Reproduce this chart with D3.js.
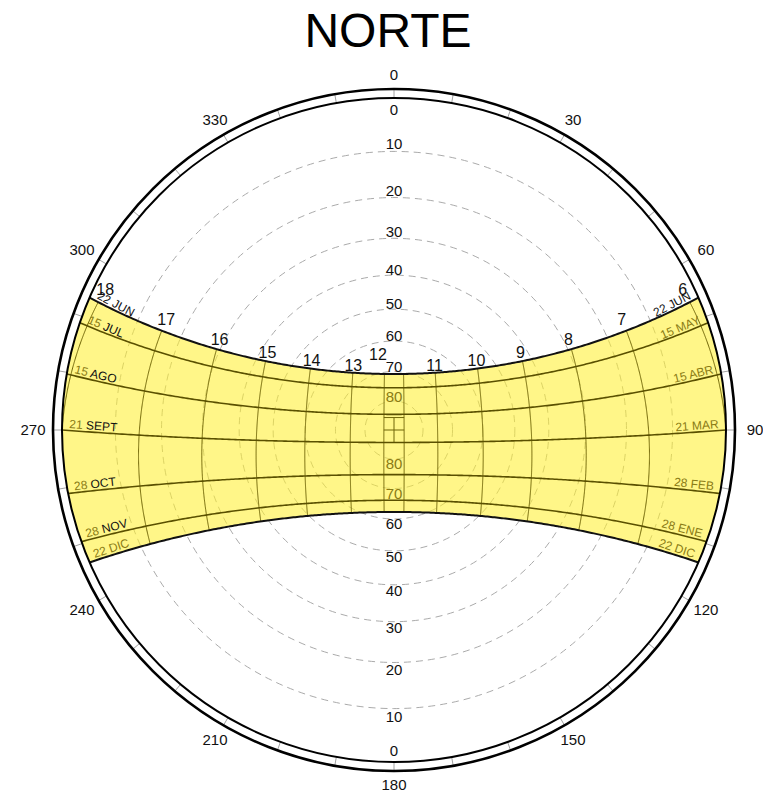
<!DOCTYPE html>
<html><head><meta charset="utf-8">
<script src="https://cdn.jsdelivr.net/npm/d3@7"></script>
<style>body{margin:0;background:#fff}svg{display:block;font-family:"Liberation Sans",Arial,sans-serif}</style>
</head><body><svg id="c" width="763" height="801"></svg>
<script>
// ---------- data ----------
const chartTitle = "NORTE";
const latitude = 4.3;                       // degrees north
const declinations = [23.44, 18.8, 9.7, 0, -11.0, -19.6, -23.44];
const leftDateNums   = ["22", "15", "15", "21", "28", "28", "22"];
const leftDateMonths = ["JUN", "JUL", "AGO", "SEPT", "OCT", "NOV", "DIC"];
const rightDateNums   = ["22", "15", "15", "21", "28", "28", "22"];
const rightDateMonths = ["JUN", "MAY", "ABR", "MAR", "FEB", "ENE", "DIC"];
const hours = [6, 7, 8, 9, 10, 11, 12, 13, 14, 15, 16, 17, 18];
const meridianBracketMinutes = [-14, 14];
const altitudeRings = [10, 20, 30, 40, 50, 60, 70, 80];
const altitudeLabels = [0, 10, 20, 30, 40, 50, 60, 70, 80];
const azimuthTicks = d3.range(0, 360, 10);
const azimuthLabels = [0, 30, 60, 90, 120, 150, 180, 210, 240, 270, 300, 330];

// ---------- layout ----------
const cx = 394, cy = 430, R = 332, Rout = 341;
const rad = Math.PI / 180;
const olive = "#8a7b14";
const svg = d3.select("#c");

const zScale = d3.scaleLinear().domain([0, 1]).range([0, R]);          // tan(z/2) -> px
const rOf = alt => zScale(Math.tan((90 - alt) * rad / 2));
const angScale = d3.scaleLinear().domain([0, 360]).range([0, 2 * Math.PI]);
function proj(az, alt) { const r = rOf(alt), a = angScale(az); return [cx + r * Math.sin(a), cy - r * Math.cos(a)]; }
function sun(dec, Hdeg) {
  const d = dec * rad, h = Hdeg * rad, p = latitude * rad;
  const E = -Math.cos(d) * Math.sin(h);
  const N = Math.sin(d) * Math.cos(p) - Math.cos(d) * Math.cos(h) * Math.sin(p);
  const U = Math.sin(d) * Math.sin(p) + Math.cos(d) * Math.cos(h) * Math.cos(p);
  return { az: (Math.atan2(E, N) / rad + 360) % 360, alt: Math.asin(Math.max(-1, Math.min(1, U))) / rad };
}
const H0 = dec => Math.acos(-Math.tan(latitude * rad) * Math.tan(dec * rad)) / rad;
function dayPts(dec, n = 300) {
  const h0 = H0(dec);
  return d3.range(n + 1).map(i => { const s = sun(dec, -h0 + 2 * h0 * i / n); return proj(s.az, Math.max(0, s.alt)); });
}
function horizonArc(side, d1, d2, n = 80) {
  return d3.range(n + 1).map(i => { const d = d1 + (d2 - d1) * i / n; const s = sun(d, side * H0(d)); return proj(s.az, 0); });
}
const line = d3.line();

// title
svg.append("text").attr("x", 388).attr("y", 47).attr("text-anchor", "middle")
  .attr("font-size", 48).attr("fill", "#000").text(chartTitle);

// altitude rings (dashed)
svg.append("g").selectAll("circle").data(altitudeRings).join("circle")
  .attr("cx", cx).attr("cy", cy).attr("r", d => rOf(d))
  .attr("fill", "none").attr("stroke", "#a0a0a0").attr("stroke-width", 0.9).attr("stroke-dasharray", "7,5");

// yellow band
const dMax = d3.max(declinations), dMin = d3.min(declinations);
const bandPts = [].concat(dayPts(dMax), horizonArc(1, dMax, dMin), dayPts(dMin).reverse(), horizonArc(-1, dMin, dMax));
svg.append("path").attr("d", line(bandPts) + "Z").attr("fill", "rgb(255,240,50)").attr("fill-opacity", 0.58);

// hour lines
const gH = svg.append("g");
hours.filter(h => h !== 12).forEach(h => {
  const Hd = (h - 12) * 15;
  const pts = d3.range(dMin, dMax + 0.001, 0.2).map(d => sun(d, Hd)).filter(s => s.alt >= 0).map(s => proj(s.az, s.alt));
  if (pts.length > 1) gH.append("path").attr("d", line(pts)).attr("fill", "none").attr("stroke", "#6f6406").attr("stroke-width", 1);
});
meridianBracketMinutes.forEach(m => {
  const Hd = m / 4;
  const pts = d3.range(dMin, dMax + 0.001, 0.2).map(d => sun(d, Hd)).map(s => proj(s.az, s.alt));
  gH.append("path").attr("d", line(pts)).attr("fill", "none").attr("stroke", "#6f6406").attr("stroke-width", 1);
});
// zenith marker grid
{
  const a = proj(0, 90), l = sun(0, meridianBracketMinutes[0] / 4), rr = sun(0, meridianBracketMinutes[1] / 4);
  const pl = proj(l.az, l.alt), pr = proj(rr.az, rr.alt);
  const top = a[1] - (pl[1] - a[1]);
  gH.append("path").attr("d", `M${pl[0]},${top}H${pr[0]}M${pl[0]},${a[1]}H${pr[0]}M${a[0]},${top}V${pl[1]}`)
    .attr("fill", "none").attr("stroke", "#6f6406").attr("stroke-width", 1);
}

// day curves
const dayCurves = declinations.map(d => dayPts(d));
svg.append("g").selectAll("path").data(dayCurves).join("path")
  .attr("d", d => line(d)).attr("fill", "none")
  .attr("stroke", (d, i) => (i === 0 || i === declinations.length - 1) ? "#111" : "#5a5000")
  .attr("stroke-width", (d, i) => (i === 0 || i === declinations.length - 1) ? 2 : 1.6);

// compass rings
svg.append("g").selectAll("line").data(azimuthTicks).join("line")
  .attr("x1", d => cx + R * Math.sin(angScale(d))).attr("y1", d => cy - R * Math.cos(angScale(d)))
  .attr("x2", d => cx + Rout * Math.sin(angScale(d))).attr("y2", d => cy - Rout * Math.cos(angScale(d)))
  .attr("stroke", "#8a8a8a").attr("stroke-width", 0.8);
svg.append("circle").attr("cx", cx).attr("cy", cy).attr("r", R).attr("fill", "none").attr("stroke", "#000").attr("stroke-width", 2);
svg.append("circle").attr("cx", cx).attr("cy", cy).attr("r", Rout).attr("fill", "none").attr("stroke", "#000").attr("stroke-width", 2.6);

// azimuth labels
const azR = d => 355 + 6 * Math.abs(Math.sin(angScale(d)));
svg.append("g").selectAll("text").data(azimuthLabels).join("text")
  .attr("x", d => cx + azR(d) * Math.sin(angScale(d))).attr("y", d => cy - azR(d) * Math.cos(angScale(d)))
  .attr("dy", "0.36em").attr("text-anchor", "middle").attr("font-size", 15).attr("fill", "#111").text(d => d);

// altitude labels (north and south on meridian)
function inBand(zNorthSigned) { const d = latitude + zNorthSigned; return d <= dMax && d >= dMin; }
const altLab = [];
altitudeLabels.forEach(a => {
  const r = a === 0 ? rOf(2) : rOf(a - 1.6);
  const z = 90 - (a === 0 ? 2 : a - 1.6);
  altLab.push({ t: a, x: cx, y: cy - r, c: inBand(z) ? olive : "#111" });
  altLab.push({ t: a, x: cx, y: cy + r, c: inBand(-z) ? olive : "#111" });
});
svg.append("g").selectAll("text").data(altLab).join("text")
  .attr("x", d => d.x).attr("y", d => d.y).attr("dy", "0.36em").attr("text-anchor", "middle")
  .attr("font-size", 15).attr("fill", d => d.c).text(d => d.t);

// hour labels
const gl = svg.append("g");
hours.forEach(h => {
  let p;
  if (h === 12) { const s = sun(30, 0); p = proj(s.az, s.alt); p = [p[0] - 16, p[1]]; }
  else { const s = sun(dMax + 2.6, (h - 12) * 15); p = proj(s.az, Math.max(0, s.alt)); }
  gl.append("text").attr("x", p[0]).attr("y", p[1]).attr("dy", "0.36em").attr("text-anchor", "middle")
    .attr("font-size", 16).attr("fill", "#111").text(h);
});

// date labels along curves
function placeDate(pts, side, num, month, numColor, monColor) {
  const fs = 12;
  const t = gl.append("text").attr("font-size", fs).attr("text-anchor", side === "right" ? "end" : "start");
  t.append("tspan").attr("fill", numColor).text(num + " ");
  t.append("tspan").attr("fill", monColor).text(month);
  const n = pts.length;
  let chosen = null;
  for (let k = 2; k < n - 2; k++) {
    const i = side === "right" ? k : n - 1 - k;
    const a = pts[i - 1], b = pts[i + 1];
    let vx = a[0] - b[0], vy = a[1] - b[1]; const L = Math.hypot(vx, vy); vx /= L; vy /= L;
    const ux = vy, uy = -vx;
    const B = [pts[i][0] + ux * 2.5, pts[i][1] + uy * 2.5];
    const T = [B[0] + ux * fs * 0.75, B[1] + uy * fs * 0.75];
    const ok = [B, T].every(q => Math.hypot(q[0] - cx, q[1] - cy) <= R - 4);
    if (ok) { chosen = { B, ang: Math.atan2(vy, vx) / rad }; break; }
  }
  t.attr("transform", `translate(${chosen.B[0]},${chosen.B[1]}) rotate(${chosen.ang})`);
}
const last = declinations.length - 1;
dayCurves.forEach((pts, i) => {
  placeDate(pts, "left", leftDateNums[i], leftDateMonths[i],
    i === 0 ? "#111" : olive, i === last ? olive : "#111");
  placeDate(pts, "right", rightDateNums[i], rightDateMonths[i],
    i === 0 ? "#111" : olive, i === 0 ? "#111" : olive);
});
</script></body></html>
